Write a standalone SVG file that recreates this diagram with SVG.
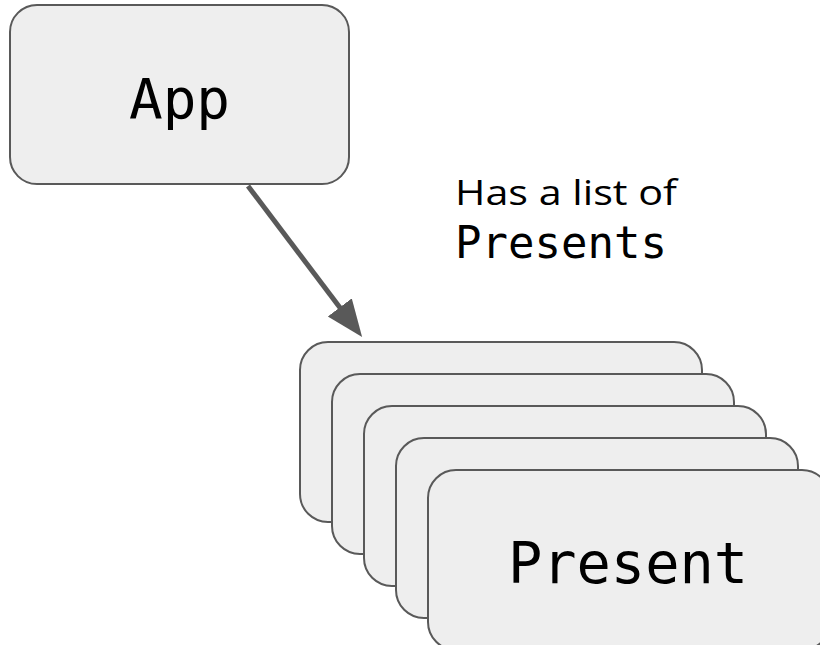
<svg xmlns="http://www.w3.org/2000/svg" width="820" height="645" viewBox="0 0 820 645">
  <style>
    .box { fill: #eeeeee; stroke: #595959; stroke-width: 2; }
    .mono { font-family: "DejaVu Sans Mono", "Liberation Mono", monospace; fill: #000000; }
    .sans { font-family: "Open Sans", "Liberation Sans", sans-serif; fill: #000000; }
    .link { stroke: #595959; stroke-width: 5; fill: none; }
  </style>
  <defs>
    <marker id="arrowhead" markerUnits="userSpaceOnUse" markerWidth="40" markerHeight="32" refX="2" refY="15" orient="auto">
      <path d="M0,0 L37,15 L0,30 Z" fill="#595959"/>
    </marker>
  </defs>
  <rect width="820" height="645" fill="#ffffff"/>

  <!-- App node -->
  <g id="app">
    <rect class="box" x="10" y="5" width="339" height="179" rx="27" ry="27"/>
    <text class="mono" x="179.5" y="118" font-size="56" text-anchor="middle">App</text>
  </g>

  <!-- Stack of Present cards, back to front -->
  <g id="present-1">
    <rect class="box" x="300" y="342" width="402" height="180" rx="28" ry="28"/>
  </g>
  <g id="present-2">
    <rect class="box" x="332" y="374" width="402" height="180" rx="28" ry="28"/>
  </g>
  <g id="present-3">
    <rect class="box" x="364" y="406" width="402" height="180" rx="28" ry="28"/>
  </g>
  <g id="present-4">
    <rect class="box" x="396" y="438" width="402" height="180" rx="28" ry="28"/>
  </g>
  <g id="present-5">
    <rect class="box" x="428" y="470" width="402" height="180" rx="28" ry="28"/>
    <text class="mono" x="628" y="583" font-size="57" text-anchor="middle">Present</text>
  </g>

  <!-- Connector: App to Presents -->
  <g id="connectors">
    <line class="link" x1="248" y1="186" x2="341" y2="309" marker-end="url(#arrowhead)"/>
    <g id="label">
      <text class="sans" x="455" y="205" font-size="34" textLength="222" lengthAdjust="spacingAndGlyphs">Has a list of</text>
      <text class="mono" x="455" y="258" font-size="44">Presents</text>
    </g>
  </g>
</svg>
